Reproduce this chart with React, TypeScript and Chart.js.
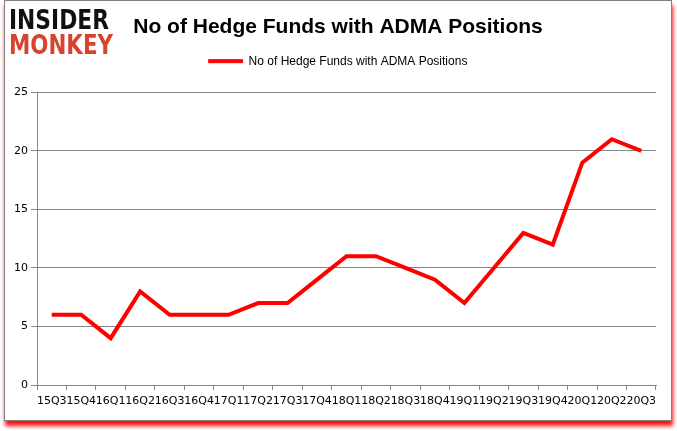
import React, { useEffect, useRef } from "react";
import { Chart, registerables } from "chart.js";

Chart.register(...registerables);

const categories = [
  "15Q3", "15Q4", "16Q1", "16Q2", "16Q3", "16Q4", "17Q1", "17Q2", "17Q3", "17Q4",
  "18Q1", "18Q2", "18Q3", "18Q4", "19Q1", "19Q2", "19Q3", "19Q4", "20Q1", "20Q2", "20Q3",
];
const hedgeFunds = [6, 6, 4, 8, 6, 6, 6, 7, 7, 9, 11, 11, 10, 9, 7, 10, 13, 12, 19, 21, 20];
const yTicks = [0, 5, 10, 15, 20, 25];
const seriesName = "No of Hedge Funds with ADMA Positions";
const titleText = "No of Hedge Funds with ADMA Positions";

export default function App() {
  const ref = useRef<HTMLCanvasElement | null>(null);

  useEffect(() => {
    if (!ref.current) return;
    const chart = new Chart(ref.current, {
      type: "line",
      data: {
        labels: categories,
        datasets: [
          {
            label: seriesName,
            data: hedgeFunds,
            borderColor: "#ff0000",
            backgroundColor: "#ff0000",
            borderWidth: 4,
            pointRadius: 0,
            tension: 0,
            fill: false,
          },
        ],
      },
      options: {
        animation: false,
        responsive: false,
        devicePixelRatio: 1,
        layout: { padding: { left: 0, right: 0, top: 0, bottom: 0 } },
        plugins: {
          tooltip: { enabled: false },
          title: {
            display: true,
            text: titleText,
            color: "#000",
            font: { family: "Liberation Sans", size: 21, weight: "bold" },
            padding: { top: 14, bottom: 5 },
          },
          subtitle: {
            display: true,
            text: "",
            weight: 500,
            font: { size: 1 },
            padding: { top: 0, bottom: 14 },
          } as any,
          legend: {
            display: true,
            position: "top",
            labels: {
              boxWidth: 34,
              boxHeight: 3,
              padding: 10,
              color: "#000",
              font: { family: "Liberation Sans", size: 12 },
              generateLabels: (c: any) => {
                const items = Chart.defaults.plugins.legend.labels.generateLabels(c);
                return items.map((it: any) => ({ ...it, lineWidth: 1 }));
              },
            },
          },
        },
        scales: {
          x: {
            type: "category",
            offset: true,
            afterFit: (s: any) => {
              s.height = 35;
              s.paddingRight = 15;
            },
            grid: {
              display: true,
              offset: true,
              drawOnChartArea: false,
              drawTicks: true,
              tickLength: 5,
              color: "#868686",
            },
            border: { display: true, color: "#868686", width: 1 },
            ticks: {
              autoSkip: false,
              maxRotation: 0,
              minRotation: 0,
              padding: 5,
              color: "#000",
              font: { family: "DejaVu Sans", size: 11 },
            },
          },
          y: {
            min: 0,
            max: 25,
            afterFit: (s: any) => {
              s.width = 32;
            },
            afterBuildTicks: (s: any) => {
              s.ticks = yTicks.map((v) => ({ value: v }));
            },
            grid: {
              color: "#868686",
              tickLength: 6,
            },
            border: { display: true, color: "#868686", width: 1 },
            ticks: {
              padding: 3,
              color: "#000",
              font: { family: "DejaVu Sans", size: 11 },
            },
          },
        },
      },
    });
    return () => chart.destroy();
  }, []);

  return (
    <div style={{ position: "absolute", left: 0, top: 0, width: 677, height: 431, background: "#fff", overflow: "hidden" }}>
      <div
        style={{
          position: "absolute",
          left: 4,
          top: 0,
          width: 668,
          height: 421,
          boxSizing: "border-box",
          border: "1px solid #7f7f7f",
          background: "#fff",
          boxShadow: "1px 5px 4px #ff1010",
        }}
      >
        <canvas ref={ref} width={666} height={419} style={{ position: "absolute", left: 0, top: 0, width: 666, height: 419 }} />
        <svg width={120} height={56} style={{ position: "absolute", left: 3, top: 7 }}>
          <text x={1} y={21} textLength={100} lengthAdjust="spacingAndGlyphs" fontFamily="DejaVu Sans" fontWeight="900" fontSize={27} fill="#111">INSIDER</text>
          <text x={1} y={46} textLength={104} lengthAdjust="spacingAndGlyphs" fontFamily="DejaVu Sans" fontWeight="900" fontSize={27} fill="#d9432e">MONKEY</text>
        </svg>
      </div>
    </div>
  );
}
